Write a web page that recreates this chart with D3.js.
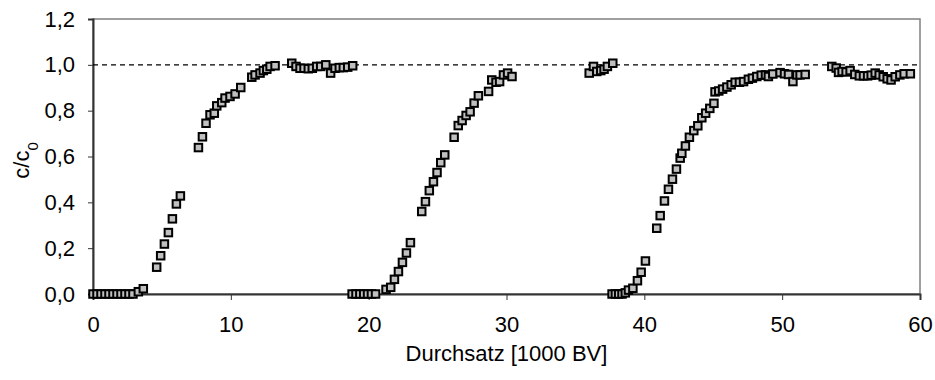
<!DOCTYPE html>
<html>
<head>
<meta charset="utf-8">
<script src="https://cdn.jsdelivr.net/npm/d3@7"></script>
<style>
  body { margin: 0; background: #fff; }
  text { font-family: "Liberation Sans", Arial, sans-serif; }
</style>
</head>
<body>
<div id="chart"></div>
<script>
// breakthrough curves, three loading cycles, c/c0 over throughput [1000 BV]

const cycle1X = [0, 0.29, 0.58, 0.87, 1.16, 1.45, 1.74, 2.03, 2.32, 2.61, 2.9, 3.29, 3.65,
  4.62, 4.91, 5.18, 5.47, 5.76, 6.05, 6.34, 7.65, 7.94, 8.2, 8.49, 8.8, 8.98, 9.34, 9.58,
  9.94, 10.31, 10.72, 11.52, 11.76, 12.12, 12.36, 12.61, 12.85, 13.21]
const cycle1Y = [0, 0, 0, 0, 0, 0, 0, 0, 0, 0, 0, 0.01, 0.023,
  0.117, 0.167, 0.218, 0.268, 0.328, 0.393, 0.428, 0.639, 0.686, 0.745, 0.782, 0.789, 0.821, 0.835, 0.855,
  0.862, 0.873, 0.901, 0.946, 0.956, 0.964, 0.975, 0.981, 0.993, 0.996]

const plateau1X = [14.42, 14.73, 15.02, 15.31, 15.62, 15.91, 16.23, 16.52, 16.89, 17.24, 17.56, 17.87, 18.16, 18.48, 18.84]
const plateau1Y = [1.007, 0.993, 0.985, 0.985, 0.983, 0.985, 0.993, 0.993, 1.0, 0.964, 0.985, 0.988, 0.988, 0.99, 0.996]

const cycle2X = [18.8, 19.08, 19.36, 19.64, 19.92, 20.2, 20.5, 21.26, 21.6, 21.87, 22.16, 22.45, 22.74, 23.03,
  23.85, 24.12, 24.4, 24.7, 24.96, 25.23, 25.52, 26.2, 26.5, 26.78, 27.07, 27.36, 27.65, 27.96,
  28.7, 28.93, 29.24, 29.5, 29.78, 30.08, 30.4]
const cycle2Y = [0, 0, 0, 0, 0, 0, 0, 0.02, 0.029, 0.064, 0.098, 0.138, 0.179, 0.224,
  0.36, 0.403, 0.451, 0.49, 0.53, 0.573, 0.607, 0.684, 0.735, 0.757, 0.779, 0.795, 0.833, 0.865,
  0.884, 0.934, 0.924, 0.927, 0.956, 0.964, 0.949]

const plateau2X = [36.0, 36.31, 36.55, 36.84, 37.08, 37.32, 37.71]
const plateau2Y = [0.964, 0.993, 0.971, 0.975, 0.981, 0.993, 1.007]

const cycle3X = [37.66, 37.9, 38.14, 38.38, 38.62, 38.85, 39.17, 39.5, 39.77, 40.08,
  40.9, 41.15, 41.46, 41.75, 42.04, 42.33, 42.6, 42.72, 42.98, 43.27, 43.59, 43.88, 44.17, 44.45,
  44.75, 45.05, 45.13, 45.4, 45.68, 45.99, 46.3, 46.59, 46.9, 47.2, 47.55, 47.84, 48.16, 48.48,
  48.79, 49.0, 49.32, 49.85, 50.17, 50.46, 50.78, 51.07, 51.3, 51.67]
const cycle3Y = [0, 0, 0, 0, 0.005, 0.017, 0.025, 0.058, 0.095, 0.144,
  0.287, 0.342, 0.406, 0.457, 0.501, 0.545, 0.593, 0.614, 0.646, 0.684, 0.713, 0.734, 0.769, 0.789,
  0.81, 0.832, 0.882, 0.886, 0.894, 0.903, 0.913, 0.924, 0.924, 0.927, 0.937, 0.942, 0.949, 0.955,
  0.956, 0.949, 0.96, 0.966, 0.961, 0.958, 0.927, 0.956, 0.956, 0.958]

const plateau3X = [53.6, 53.92, 54.09, 54.35, 54.64, 54.93, 55.27, 55.6, 55.9, 56.2, 56.46, 56.75,
  57.04, 57.33, 57.62, 57.9, 58.2, 58.54, 58.85, 59.3]
const plateau3Y = [0.993, 0.986, 0.967, 0.971, 0.969, 0.975, 0.958, 0.952, 0.952, 0.952, 0.955, 0.964,
  0.956, 0.948, 0.939, 0.934, 0.948, 0.956, 0.961, 0.961]

const xTicks = [0, 10, 20, 30, 40, 50, 60]
const yTicks = [0, 0.2, 0.4, 0.6, 0.8, 1.0, 1.2]
const refLevel = 1.0

const margin = {top: 19, right: 15, bottom: 86, left: 93},
  width = 935 - margin.left - margin.right,
  height = 380 - margin.top - margin.bottom

const svg = d3.select("#chart")
  .append("svg")
    .attr("width", width + margin.left + margin.right)
    .attr("height", height + margin.top + margin.bottom)
  .append("g")
    .attr("transform", `translate(${margin.left}, ${margin.top})`)

const x = d3.scaleLinear().domain([0, 60]).range([0, width])
const y = d3.scaleLinear().domain([0, 1.2]).range([height, 0])

// plot frame (grey top/right like excel)
svg.append("rect")
  .attr("width", width).attr("height", height)
  .attr("fill", "none").attr("stroke", "#808080").attr("stroke-width", 1.5)

const comma = d => d3.format(".1f")(d).replace(".", ",")

const yAxis = svg.append("g")
  .call(d3.axisLeft(y).tickValues(yTicks).tickFormat(comma).tickSize(5).tickPadding(13))
const xAxis = svg.append("g")
  .attr("transform", `translate(0, ${height})`)
  .call(d3.axisBottom(x).tickValues(xTicks).tickSize(6).tickPadding(16))

for (const ax of [xAxis, yAxis]) {
  ax.select(".domain").attr("stroke", "#333").attr("stroke-width", 2)
  ax.selectAll(".tick line").attr("stroke", "#333").attr("stroke-width", 1)
  ax.selectAll(".tick text").attr("fill", "#000")
    .style("font-family", '"Liberation Sans", Arial, sans-serif').style("font-size", "22px")
}

// reference line at c/c0 = 1
svg.append("line")
  .attr("x1", 0).attr("x2", width)
  .attr("y1", y(refLevel)).attr("y2", y(refLevel))
  .attr("stroke", "#000").attr("stroke-width", 1.4).attr("stroke-dasharray", "5,4")

const series = [[cycle1X, cycle1Y], [plateau1X, plateau1Y], [cycle2X, cycle2Y],
  [plateau2X, plateau2Y], [cycle3X, cycle3Y], [plateau3X, plateau3Y]]
const points = series.flatMap(([xs, ys]) => xs.map((v, i) => ({x: v, y: ys[i]})))

const s = 7.5
svg.append("g").selectAll("rect")
  .data(points)
  .join("rect")
    .attr("x", d => x(d.x) - s / 2)
    .attr("y", d => y(d.y) - s / 2)
    .attr("width", s).attr("height", s)
    .attr("fill", "#c0c0c0").attr("stroke", "#000").attr("stroke-width", 2)

// axis titles
svg.append("text")
  .attr("x", width / 2).attr("y", height + 67)
  .attr("text-anchor", "middle").style("font-size", "22px")
  .text("Durchsatz [1000 BV]")

const yt = svg.append("text")
  .attr("transform", `translate(${-64}, ${height / 2 + 4}) rotate(-90)`)
  .attr("text-anchor", "middle").style("font-size", "22px")
yt.append("tspan").text("c/c")
yt.append("tspan").attr("baseline-shift", "sub").style("font-size", "15px").text("0")
</script>
</body>
</html>
